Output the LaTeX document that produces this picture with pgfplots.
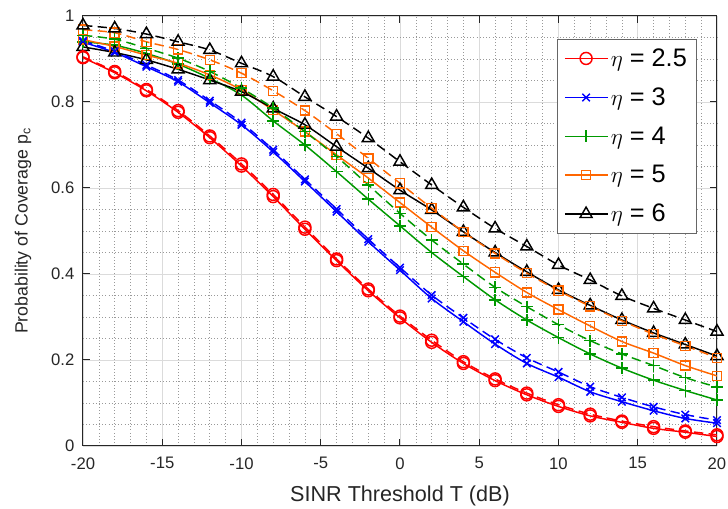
\documentclass[border=0pt]{standalone}
\usepackage{pgfplots}
\usepackage{pgfplotstable}
\pgfplotsset{compat=1.18}
\usepackage{fontspec}
\setmainfont{Liberation Sans}
\definecolor{mred}{rgb}{1,0,0}
\definecolor{mblue}{rgb}{0,0,1}
\definecolor{mgreen}{rgb}{0,0.6,0}
\definecolor{morange}{rgb}{1,0.4,0}
\definecolor{axgray}{rgb}{0.15,0.15,0.15}

\pgfplotstableread{
x   r     rd    b     bd    g     gd    o     od    k     kd
-20 0.903 0.905 0.939 0.942 0.940 0.955 0.945 0.968 0.928 0.978
-18 0.868 0.871 0.915 0.918 0.932 0.946 0.929 0.961 0.915 0.971
-16 0.826 0.829 0.882 0.886 0.913 0.925 0.909 0.940 0.898 0.958
-14 0.776 0.780 0.847 0.851 0.888 0.902 0.890 0.922 0.876 0.940
-12 0.717 0.721 0.798 0.803 0.855 0.871 0.863 0.898 0.851 0.921
-10 0.651 0.656 0.747 0.752 0.816 0.832 0.828 0.867 0.824 0.890
-8  0.580 0.585 0.684 0.689 0.756 0.786 0.781 0.826 0.785 0.859
-6  0.504 0.509 0.615 0.620 0.700 0.731 0.731 0.780 0.747 0.812
-4  0.431 0.435 0.545 0.551 0.638 0.673 0.677 0.726 0.696 0.766
-2  0.361 0.365 0.475 0.481 0.574 0.607 0.623 0.669 0.646 0.716
0   0.298 0.302 0.409 0.415 0.512 0.541 0.566 0.611 0.595 0.661
2   0.241 0.246 0.343 0.351 0.450 0.479 0.509 0.553 0.549 0.607
4   0.192 0.196 0.289 0.298 0.394 0.423 0.454 0.498 0.498 0.555
6   0.152 0.156 0.237 0.248 0.340 0.369 0.404 0.448 0.450 0.506
8   0.119 0.123 0.192 0.205 0.293 0.324 0.357 0.402 0.405 0.464
10  0.092 0.096 0.160 0.172 0.252 0.282 0.317 0.361 0.363 0.421
12  0.070 0.074 0.126 0.138 0.214 0.245 0.279 0.325 0.327 0.386
14  0.055 0.058 0.103 0.113 0.181 0.214 0.243 0.291 0.293 0.349
16  0.041 0.045 0.082 0.091 0.153 0.187 0.216 0.260 0.263 0.320
18  0.032 0.035 0.064 0.073 0.129 0.159 0.187 0.233 0.236 0.293
20  0.022 0.026 0.053 0.060 0.107 0.137 0.163 0.205 0.209 0.266
}\data

\begin{document}
\begin{tikzpicture}
\begin{axis}[
  scale only axis, width=475.5pt, height=322.5pt,
  xmin=-20, xmax=20, ymin=0, ymax=1,
  xtick={-20,-15,...,20}, ytick={0,0.2,0.4,0.6,0.8,1},
  minor x tick num=4, minor y tick num=3,
  grid=both,
  major grid style={draw=black!14, line width=0.5pt},
  minor grid style={draw=black!40, dotted, line width=0.5pt},
  tick align=inside, tick pos=both,
  major tick length=5.5pt, minor tick length=0pt,
  axis line style={draw=axgray, line width=0.75pt},
  every tick/.style={draw=axgray, line width=0.75pt},
  tick label style={font=\fontsize{12.5}{14}\selectfont, text=axgray},
  xticklabel style={yshift=-5pt},
  yticklabel style={xshift=-3pt},
  /pgf/number format/assume math mode=true,
  xlabel={SINR Threshold T (dB)},
  ylabel={Probability of Coverage p\textsubscript{c}},
  xlabel style={font=\fontsize{16.2}{19}\selectfont, text=axgray, at={(axis description cs:0.5,-0.1302)}, anchor=base},
  ylabel style={font=\fontsize{13.3}{16}\selectfont, text=axgray, at={(axis description cs:-0.0946,0.5)}, anchor=center},
  legend style={at={(axis description cs:0.968,0.947)}, anchor=north east,
    font=\fontsize{19}{22}\selectfont, draw=black!60, line width=0.75pt,
    fill=white, row sep=10.5pt, inner sep=5pt},
  legend cell align=left,
  legend image code/.code={\draw[mark repeat=2,mark phase=2] plot coordinates {(0pt,0pt) (16pt,0pt) (32pt,0pt)};},
  every axis plot/.append style={line width=1.1pt},
]
\addplot[mred, smooth, mark=o, mark size=4.5pt] table[x=x,y=r] {\data};
\addlegendentry{$\eta$ = 2.5}
\addplot[mblue, smooth, mark=x, mark size=4pt] table[x=x,y=b] {\data};
\addlegendentry{$\eta$ = 3}
\addplot[mgreen, smooth, mark=+, mark size=4.5pt] table[x=x,y=g] {\data};
\addlegendentry{$\eta$ = 4}
\addplot[morange, smooth, mark=square, mark size=3.4pt] table[x=x,y=o] {\data};
\addlegendentry{$\eta$ = 5}
\addplot[black, smooth, mark=triangle, mark size=5.2pt] table[x=x,y=k] {\data};
\addlegendentry{$\eta$ = 6}

\addplot[forget plot, mred, smooth, dash pattern=on 7pt off 4pt, mark=o, mark size=4.5pt, mark options={solid}] table[x=x,y=rd] {\data};
\addplot[forget plot, mblue, smooth, dash pattern=on 7pt off 4pt, mark=x, mark size=4pt, mark options={solid}] table[x=x,y=bd] {\data};
\addplot[forget plot, mgreen, smooth, dash pattern=on 7pt off 4pt, mark=+, mark size=4.5pt, mark options={solid}] table[x=x,y=gd] {\data};
\addplot[forget plot, morange, smooth, dash pattern=on 7pt off 4pt, mark=square, mark size=3.4pt, mark options={solid}] table[x=x,y=od] {\data};
\addplot[forget plot, black, smooth, dash pattern=on 7pt off 4pt, mark=triangle, mark size=5.2pt, mark options={solid}] table[x=x,y=kd] {\data};
\end{axis}
\pgfresetboundingbox
\path (-62.25pt,-47.25pt) rectangle (483.75pt,334.5pt);
\end{tikzpicture}
\end{document}
